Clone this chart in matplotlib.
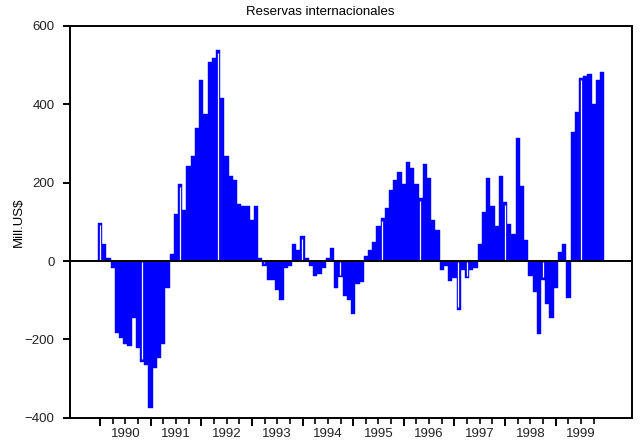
import numpy as np
import matplotlib
matplotlib.use("Agg")
import matplotlib.pyplot as plt

plt.rcParams['font.family'] = ['Liberation Sans', 'DejaVu Sans']

# Datos mensuales 1990-1999 (Mill. US$)
years = ['1990', '1991', '1992', '1993', '1994', '1995', '1996', '1997', '1998', '1999']
values = [
    98, 43, 8, -17, -185, -196, -211, -216, -145, -221, -257, -266,      # 1990
    -375, -272, -247, -211, -68, 17, 119, 196, 129, 242, 267, 339,       # 1991
    462, 375, 508, 518, 538, 416, 267, 216, 206, 145, 140, 140,          # 1992
    104, 140, 8, -12, -48, -48, -73, -99, -17, -12, 43, 27,              # 1993
    63, 8, -12, -37, -32, -17, 8, 32, -68, -42, -88, -99,                # 1994
    -134, -58, -53, 12, 27, 48, 89, 109, 135, 181, 206, 227,             # 1995
    196, 252, 237, 196, 160, 247, 211, 104, 78, -22, -12, -50,           # 1996
    -43, -124, -22, -43, -22, -17, 43, 124, 211, 140, 89, 216,           # 1997
    150, 94, 68, 313, 191, 53, -37, -78, -186, -48, -109, -145,          # 1998
    -68, 22, 43, -94, 329, 380, 467, 472, 477, 400, 462, 482,            # 1999
]

# barras que en el original llevan una raya blanca dentro
hollow = [0, 10, 19, 28, 39, 48, 57, 67, 76, 85, 87, 96, 105, 114]

x = np.arange(len(values))
vals = np.array(values)

fig = plt.figure(figsize=(6.41, 4.45), dpi=100)
ax = fig.add_axes([0.1092, 0.0613, 0.8763, 0.8803])

ax.bar(x, vals, width=1.0, color='#0000ff', edgecolor='#0000ff',
       linewidth=0.3, zorder=2)

# raya blanca fina dentro de las barras "huecas"
hv = vals[hollow]
sign = np.sign(hv)
ax.vlines(x[hollow] - 0.1, sign * 3, hv - sign * 6, color='white',
          linewidth=0.9, zorder=3)

ax.axhline(0, color='black', linewidth=1.4, zorder=4)

ax.set_xlim(-7.1, 126.0)
ax.set_ylim(-400, 600)
ax.set_yticks([-400, -200, 0, 200, 400, 600])

# ticks: año (largos) y trimestres (cortos), etiquetas centradas en el año
ax.set_xticks(np.arange(0, 120, 12))
ax.set_xticks(np.arange(0, 118, 3), minor=True)
ax.set_xticklabels([])
for k, y in enumerate(years):
    ax.text(6 + 12 * k, -0.027, y, transform=ax.get_xaxis_transform(),
            ha='center', va='top', fontsize=9.5, color='#222222')

ax.tick_params(axis='x', which='major', direction='out', length=6, width=1.4)
ax.tick_params(axis='x', which='minor', direction='out', length=4, width=1.2)
ax.tick_params(axis='y', direction='out', length=5, width=1.4, labelsize=9.5,
               labelcolor='#222222', pad=6)

for s in ax.spines.values():
    s.set_linewidth(1.4)

fig.text(0.5, 0.972, 'Reservas internacionales', ha='center', va='center',
         fontsize=9.5)
ax.set_ylabel('Mill.US$', fontsize=9.5, labelpad=0)

fig.savefig('out.png', dpi=100)
